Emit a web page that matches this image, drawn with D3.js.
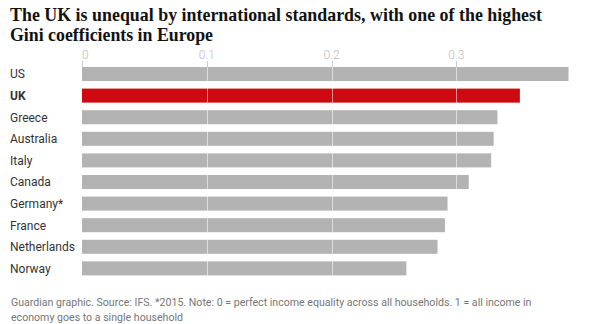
<!DOCTYPE html>
<html>
<head>
  <title>The UK is unequal by international standards</title>
  <script src="https://d3js.org/d3.v7.min.js"></script>
  <style>
    body {
      margin: 0;
      background: #fff;
    }
    .chart-title {
      font-family: "Liberation Serif", serif;
      font-weight: bold;
      font-size: 19px;
      fill: #121212;
    }
    .country-label {
      font-family: Roboto, "Liberation Sans", sans-serif;
      font-size: 12px;
      fill: #333;
    }
    .tick-label {
      font-family: Roboto, "Liberation Sans", sans-serif;
      font-size: 12px;
      font-weight: 300;
      fill: #bdbdbd;
    }
    .footnote {
      font-family: Roboto, "Liberation Sans", sans-serif;
      font-size: 10.6px;
      fill: #767676;
    }
  </style>
</head>
<body>
<div id="chart"></div>

<script>
  // Data
  const countries = ["US", "UK", "Greece", "Australia", "Italy", "Canada", "Germany*", "France", "Netherlands", "Norway"];
  const gini = [0.390, 0.351, 0.333, 0.330, 0.328, 0.310, 0.293, 0.291, 0.285, 0.260];
  const tickValues = [0, 0.1, 0.2, 0.3];
  const highlight = "UK";

  const titleLines = [
    "The UK is unequal by international standards, with one of the highest",
    "Gini coefficients in Europe"
  ];
  const footLines = [
    "Guardian graphic. Source: IFS. *2015. Note: 0 = perfect income equality across all households. 1 = all income in",
    "economy goes to a single household"
  ];

  const width = 605, height = 324;

  const svg = d3.select("#chart").append("svg")
    .attr("width", width)
    .attr("height", height);

  // Scales
  const xScale = d3.scaleLinear()
    .domain([0, 0.4])
    .range([82, 581]);

  const yScale = d3.scaleBand()
    .domain(countries)
    .range([67, 275.4])
    .paddingInner(0.35)
    .paddingOuter(0);

  // Title, squeezed to the width of the original headline
  const titleWidths = [532, 203];
  svg.selectAll(".chart-title")
    .data(titleLines)
    .enter().append("text")
    .attr("class", "chart-title")
    .attr("x", 10)
    .attr("y", (d, i) => 21 + i * 20)
    .text(d => d)
    .each(function(d, i) {
      if (this.getComputedTextLength() > titleWidths[i]) {
        d3.select(this)
          .attr("textLength", titleWidths[i])
          .attr("lengthAdjust", "spacingAndGlyphs");
      }
    });

  // Tick labels and short tick marks above the bars
  svg.selectAll(".tick-label")
    .data(tickValues)
    .enter().append("text")
    .attr("class", "tick-label")
    .attr("x", d => xScale(d))
    .attr("y", 59)
    .attr("text-anchor", d => d === 0 ? "start" : "middle")
    .text(d => d3.format("")(d));

  svg.selectAll(".tick-mark")
    .data(tickValues)
    .enter().append("line")
    .attr("class", "tick-mark")
    .attr("x1", d => Math.round(xScale(d)) + 0.5)
    .attr("x2", d => Math.round(xScale(d)) + 0.5)
    .attr("y1", 61)
    .attr("y2", yScale.range()[0])
    .attr("stroke", "#cccccc")
    .attr("stroke-width", 1);

  // Bars
  svg.selectAll(".bar")
    .data(countries)
    .enter().append("rect")
    .attr("class", "bar")
    .attr("x", xScale(0))
    .attr("y", d => yScale(d))
    .attr("width", (d, i) => xScale(gini[i]) - xScale(0))
    .attr("height", yScale.bandwidth())
    .attr("fill", d => d === highlight ? "#cc0a11" : "#b3b3b3");

  // Light gridlines drawn over the bars
  svg.selectAll(".grid-line")
    .data(tickValues.filter(d => d > 0))
    .enter().append("line")
    .attr("class", "grid-line")
    .attr("x1", d => Math.round(xScale(d)) + 0.5)
    .attr("x2", d => Math.round(xScale(d)) + 0.5)
    .attr("y1", yScale.range()[0])
    .attr("y2", yScale.range()[1])
    .attr("stroke", "rgba(255,255,255,0.55)")
    .attr("stroke-width", 1);

  // Country labels
  svg.selectAll(".country-label")
    .data(countries)
    .enter().append("text")
    .attr("class", "country-label")
    .attr("x", 10)
    .attr("y", d => yScale(d) + yScale.bandwidth() / 2)
    .attr("dy", "0.36em")
    .style("font-weight", d => d === highlight ? "bold" : "normal")
    .text(d => d);

  // Footnote
  svg.selectAll(".footnote")
    .data(footLines)
    .enter().append("text")
    .attr("class", "footnote")
    .attr("x", 11)
    .attr("y", (d, i) => 306 + i * 15)
    .text(d => d);
</script>
</body>
</html>
